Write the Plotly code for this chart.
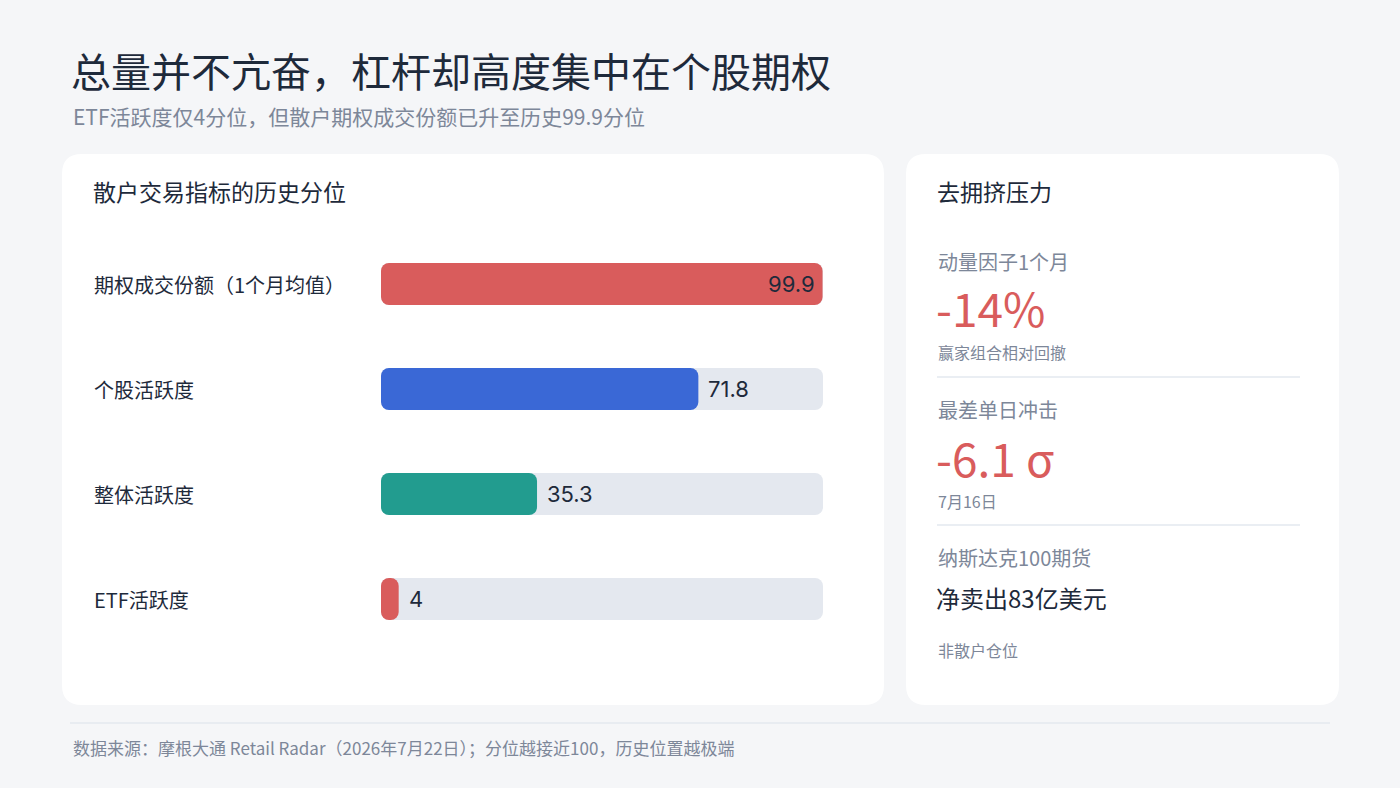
import plotly.graph_objects as go

W, H = 1400, 788

# ---- data ----
categories = ["期权成交份额（1个月均值）", "个股活跃度", "整体活跃度", "ETF活跃度"]
percentiles = [99.9, 71.8, 35.3, 4]
bar_colors = ["#d95c5c", "#3a68d6", "#229c8f", "#d95c5c"]
track_max = 100

title = "总量并不亢奋，杠杆却高度集中在个股期权"
subtitle = "ETF活跃度仅4分位，但散户期权成交份额已升至历史99.9分位"
left_title = "散户交易指标的历史分位"
right_title = "去拥挤压力"
kpi_labels = ["动量因子1个月", "最差单日冲击", "纳斯达克100期货"]
kpi_values = ["-14%", "-6.1 σ", "净卖出83亿美元"]
kpi_notes = ["赢家组合相对回撤", "7月16日", "非散户仓位"]
footer = "数据来源：摩根大通 Retail Radar（2026年7月22日）；分位越接近100，历史位置越极端"

FONT = "Inter, 'Noto Sans CJK SC', sans-serif"
CJK = "'Noto Sans CJK SC', Inter, sans-serif"
DARK = "#1e2a3b"
GRAY = "#7d8799"
RED = "#d95c5c"


def px(x):
    return x / W


def py(y):
    return 1 - y / H


def rrect(x0, y0, x1, y1, r):
    rx, ry = r / W, r / H
    X0, X1 = px(x0), px(x1)
    Yt, Yb = py(y0), py(y1)
    return (f"M {X0+rx},{Yt} L {X1-rx},{Yt} Q {X1},{Yt} {X1},{Yt-ry} "
            f"L {X1},{Yb+ry} Q {X1},{Yb} {X1-rx},{Yb} L {X0+rx},{Yb} "
            f"Q {X0},{Yb} {X0},{Yb+ry} L {X0},{Yt-ry} Q {X0},{Yt} {X0+rx},{Yt} Z")


fig = go.Figure()

# an explicit base makes plotly round all four corners of each bar
fig.add_trace(go.Bar(
    y=categories, x=[track_max] * len(categories), base=[0] * len(categories), orientation="h",
    marker=dict(color="#e4e8ef", line=dict(width=0), cornerradius=8), width=0.4,
    hoverinfo="skip", showlegend=False,
))
fig.add_trace(go.Bar(
    y=categories, x=percentiles, base=[0] * len(categories), orientation="h",
    marker=dict(color=bar_colors, line=dict(width=0), cornerradius=8), width=0.4,
    hoverinfo="skip", showlegend=False,
))

shapes = [
    dict(type="path", xref="paper", yref="paper", path=rrect(62, 154, 884, 705, 20),
         fillcolor="white", line=dict(width=0), layer="below"),
    dict(type="path", xref="paper", yref="paper", path=rrect(906, 154, 1339, 705, 20),
         fillcolor="white", line=dict(width=0), layer="below"),
    dict(type="line", xref="paper", yref="paper", x0=px(937), x1=px(1300), y0=py(377), y1=py(377),
         line=dict(color="#e3e8ef", width=1.5)),
    dict(type="line", xref="paper", yref="paper", x0=px(937), x1=px(1300), y0=py(525), y1=py(525),
         line=dict(color="#e3e8ef", width=1.5)),
    dict(type="line", xref="paper", yref="paper", x0=px(70), x1=px(1330), y0=py(723), y1=py(723),
         line=dict(color="#e3e8ef", width=1.5)),
]

ann = []


def text(x, y, s, size, color, family=CJK, anchor="left"):
    ann.append(dict(x=px(x), y=py(y), xref="paper", yref="paper", text=s, showarrow=False,
                    xanchor=anchor, yanchor="middle", font=dict(size=size, color=color, family=family)))


text(69, 70, title, 40, DARK)
text(71, 116, subtitle, 21, GRAY)
text(91, 191, left_title, 23, DARK)
text(935, 191, right_title, 23, DARK)

# category labels and value labels through the axes
for i, (c, v) in enumerate(zip(categories, percentiles)):
    ann.append(dict(x=px(92), xref="paper", y=c, yref="y", text=c, showarrow=False,
                    xanchor="left", yanchor="middle", font=dict(size=20, color=DARK, family=CJK)))
    if v > 90:
        ann.append(dict(x=v, xref="x", y=c, yref="y", text=f"{v:g}", showarrow=False,
                        xanchor="right", xshift=-6, yanchor="middle",
                        font=dict(size=22, color=DARK, family=FONT)))
    else:
        ann.append(dict(x=v, xref="x", y=c, yref="y", text=f"{v:g}", showarrow=False,
                        xanchor="left", xshift=8, yanchor="middle",
                        font=dict(size=22, color=DARK, family=FONT)))

# KPI blocks
label_y = [261, 409, 557]
value_y = [307, 457, 597]
note_y = [352, 501, 650]
value_size = [46, 46, 24]
value_color = [RED, RED, DARK]
for i in range(3):
    text(936, label_y[i], kpi_labels[i], 20, GRAY)
    text(934, value_y[i], kpi_values[i], value_size[i], value_color[i], family=CJK)
    text(936, note_y[i], kpi_notes[i], 16, GRAY)

text(71, 747, footer, 17, GRAY)

fig.update_layout(
    width=W, height=H,
    margin=dict(l=0, r=0, t=0, b=0),
    paper_bgcolor="#f5f6f8", plot_bgcolor="rgba(0,0,0,0)",
    barmode="overlay",
    xaxis=dict(domain=[px(381), px(823)], range=[0, 100], visible=False, fixedrange=True),
    yaxis=dict(domain=[py(651.5), py(231.5)], type="category", categoryarray=categories,
               range=[3.5, -0.5], visible=False, fixedrange=True),
    shapes=shapes, annotations=ann, showlegend=False,
    font=dict(family=CJK),
)

fig.write_html("out.html", config={"displayModeBar": False},
               post_script="document.body.style.margin='0';document.body.style.background='#f5f6f8';")
